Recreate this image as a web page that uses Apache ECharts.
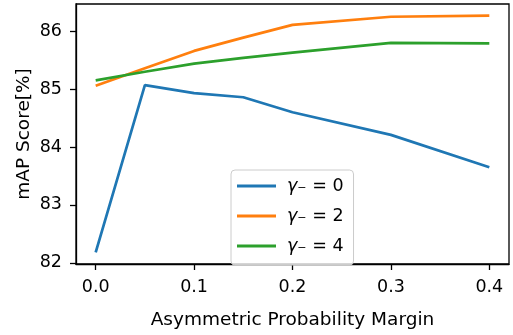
<!DOCTYPE html>
<html><head><meta charset="utf-8">
<script src="https://cdn.jsdelivr.net/npm/echarts@6/dist/echarts.min.js"></script>
<style>html,body{margin:0;padding:0;background:#fff}#c{width:513px;height:335px}</style>
</head><body><div id="c"></div>
<script>
const margins = [0, 0.05, 0.1, 0.15, 0.2, 0.3, 0.4];
const gamma0 = [82.18, 85.07, 84.93, 84.86, 84.60, 84.21, 83.65];
const gamma2 = [85.06, 85.36, 85.66, 85.89, 86.11, 86.25, 86.27];
const gamma4 = [85.15, 85.30, 85.44, 85.54, 85.63, 85.80, 85.79];
const seriesNames = ['0', '2', '4'];
const xTicks = [0, 0.1, 0.2, 0.3, 0.4];
const yTicks = [82, 83, 84, 85, 86];
const colors = ['#1f77b4', '#ff7f0e', '#2ca02c'];
const font = 'DejaVu Sans';

const chart = echarts.init(document.getElementById('c'));
const mk = (vals) => margins.map((m, i) => [m, vals[i]]);
const allData = [gamma0, gamma2, gamma4];
chart.setOption({
  animation: false,
  grid: {left: 76, right: 4, top: 4, bottom: 61, show: true, borderColor: '#000', borderWidth: 1.3, backgroundColor: 'transparent'},
  xAxis: {
    type: 'value', min: -0.02, max: 0.42,
    name: 'Asymmetric Probability Margin', nameLocation: 'middle', nameGap: 47,
    nameTextStyle: {fontFamily: font, fontSize: 18.5, color: '#000'},
    axisLine: {show: true, onZero: false, lineStyle: {color: '#000', width: 1.3}},
    axisTick: {show: true, length: 6, customValues: xTicks, lineStyle: {color: '#000', width: 1.3}},
    axisLabel: {customValues: xTicks, margin: 14, fontFamily: font, fontSize: 17.5, color: '#000', formatter: v => v.toFixed(1)},
    splitLine: {show: false}
  },
  yAxis: {
    type: 'value', min: 81.98, max: 86.47,
    name: 'mAP Score[%]', nameLocation: 'middle', nameGap: 42, nameRotate: 90, nameMoveOverlap: false,
    nameTextStyle: {fontFamily: font, fontSize: 18.5, color: '#000'},
    axisLine: {show: true, onZero: false, lineStyle: {color: '#000', width: 1.3}},
    axisTick: {show: true, length: 6, customValues: yTicks, lineStyle: {color: '#000', width: 1.3}},
    axisLabel: {customValues: yTicks, margin: 14, fontFamily: font, fontSize: 17.5, color: '#000'},
    splitLine: {show: false}
  },
  legend: {
    orient: 'vertical', left: 231, top: 170,
    backgroundColor: 'rgba(255,255,255,0.8)', borderColor: '#cccccc', borderWidth: 1, borderRadius: 4,
    padding: [7, 10, 10, 6], itemWidth: 39, itemHeight: 3, itemGap: 12,
    formatter: name => '{g|γ}{s|₋}{t| = ' + name + '}',
    textStyle: {
      fontFamily: font, fontSize: 17.5, color: '#000', padding: [0, 0, 0, 6],
      rich: {
        g: {fontFamily: font, fontSize: 17.5, fontStyle: 'italic', color: '#000', lineHeight: 20},
        s: {fontFamily: font, fontSize: 17.5, color: '#000', lineHeight: 20},
        t: {fontFamily: font, fontSize: 17.5, color: '#000', lineHeight: 20}
      }
    },
    data: seriesNames.map(n => ({name: n, icon: 'rect'}))
  },
  series: seriesNames.map((n, i) => ({
    name: n, type: 'line', data: mk(allData[i]), showSymbol: false, symbol: 'none',
    lineStyle: {color: colors[i], width: 2.7}, itemStyle: {color: colors[i]}
  }))
});
</script></body></html>
